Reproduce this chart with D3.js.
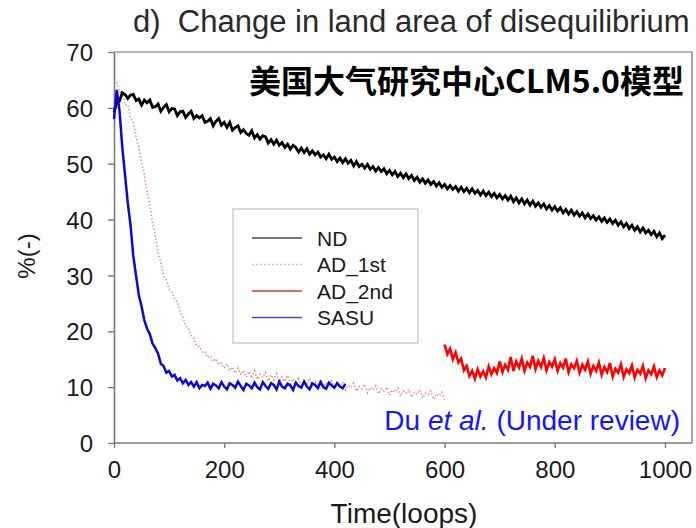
<!DOCTYPE html>
<html>
<head>
<meta charset="utf-8">
<script src="https://cdn.jsdelivr.net/npm/d3@7/dist/d3.min.js"></script>
<style>
  html, body { margin: 0; padding: 0; background: #fff; }
  svg { display: block; font-family: "Liberation Sans", Arial, sans-serif; }
</style>
</head>
<body>
<svg id="chart" width="696" height="528"></svg>
<script>
// Percent of land area still in disequilibrium, per spin-up loop.
const ndStart = 0, ndStep = 5;
const ndValues = [
  59.2, 60.9, 61.2, 62.7, 62.4, 61.7, 62.3, 62.4, 61.3, 61.6,
  60.5, 61.4, 60.9, 61.4, 60.1, 60.2, 60.7, 59.4, 60.1, 60.6,
  59.3, 59.9, 59.8, 58.6, 59.3, 59.4, 58.3, 58.9, 59.4, 58.1,
  58.6, 58.2, 58.6, 57.4, 57.6, 58.1, 56.8, 57.6, 58.1, 56.9,
  57.4, 56.5, 57.4, 56.0, 56.5, 56.8, 55.6, 56.1, 55.4, 55.1,
  55.9, 54.6, 55.2, 54.4, 55.0, 54.8, 53.7, 54.3, 53.5, 54.2,
  53.3, 53.8, 52.9, 53.5, 52.6, 53.3, 52.9, 52.1, 52.8, 52.0,
  52.7, 51.7, 52.3, 51.6, 52.1, 51.2, 51.6, 50.9, 51.7, 50.8,
  51.2, 50.4, 51.0, 50.2, 50.9, 50.1, 50.6, 49.6, 50.4, 49.5,
  49.9, 49.2, 49.9, 49.0, 49.5, 48.7, 49.3, 48.6, 49.1, 48.2,
  48.8, 48.0, 48.6, 47.7, 48.3, 47.5, 48.2, 47.3, 47.9, 47.0,
  47.6, 46.7, 47.3, 46.5, 47.1, 46.3, 46.8, 46.0, 46.6, 45.8,
  46.3, 45.5, 46.1, 45.4, 45.9, 45.1, 45.8, 45.0, 45.6, 44.8,
  45.5, 44.7, 45.2, 44.4, 45.1, 44.3, 44.9, 44.1, 44.7, 43.9,
  44.5, 43.7, 44.3, 43.5, 44.2, 43.2, 43.9, 43.0, 43.7, 42.8,
  43.5, 42.6, 43.3, 42.4, 43.0, 42.2, 42.8, 41.9, 42.5, 41.7,
  42.3, 41.5, 42.1, 41.2, 41.8, 41.0, 41.7, 40.8, 41.4, 40.6,
  41.2, 40.3, 41.0, 40.2, 40.7, 39.9, 40.5, 39.7, 40.3, 39.5,
  40.1, 39.3, 39.9, 39.0, 39.6, 38.7, 39.3, 38.4, 39.0, 38.1,
  38.7, 37.8, 38.5, 37.6, 38.1, 37.3, 37.9, 36.9, 37.6, 36.6,
  37.2
];

const ad1Start = 5, ad1Step = 5;
const ad1Values = [
  64.6, 62.8, 63.0, 60.5, 60.6, 58.2, 57.5, 54.8, 53.0, 50.2,
  48.1, 44.8, 42.6, 39.3, 37.2, 33.9, 32.3, 29.9, 29.2, 27.6,
  27.1, 25.7, 25.3, 23.4, 22.6, 20.9, 20.6, 19.2, 18.7, 17.4,
  17.3, 16.3, 16.4, 15.3, 15.6, 14.6, 15.1, 14.1, 14.3, 13.4,
  14.2, 13.0, 13.6, 12.5, 13.4, 12.2, 13.0, 11.8, 12.8, 11.6,
  12.9, 11.4, 12.3, 11.7, 12.6, 11.1, 12.2, 11.3, 12.4, 10.9,
  11.8, 11.0, 12.1, 10.6, 11.5, 10.9, 11.8, 10.3, 11.2, 10.6,
  11.6, 10.1, 11.0, 10.5, 11.4, 9.9, 10.8, 10.4, 11.1, 9.7,
  10.6, 10.1, 10.9, 9.5, 10.3, 9.9, 10.7, 9.3, 10.1, 9.7,
  10.5, 9.0, 9.9, 9.5, 10.2, 8.8, 9.7, 9.3, 10.0, 8.6,
  9.5, 9.1, 9.8, 8.4, 9.3, 8.9, 9.6, 8.2, 9.1, 8.7,
  9.5, 8.0, 8.9, 8.6, 9.3, 7.8, 8.8, 8.4, 9.1, 7.7
];

const ad2Start = 600, ad2Step = 5;
const ad2Values = [
  17.6, 15.9, 16.9, 15.0, 16.2, 14.4, 15.1, 13.0, 13.8, 12.0,
  12.9, 11.5, 13.2, 11.9, 12.8, 11.7, 13.7, 12.3, 13.4, 12.5,
  14.6, 12.7, 14.0, 13.1, 15.4, 12.9, 14.6, 13.5, 15.1, 12.9,
  14.4, 13.6, 15.6, 13.2, 14.7, 13.6, 15.2, 13.0, 14.5, 13.7,
  15.0, 12.9, 14.3, 13.5, 15.1, 12.7, 14.1, 13.4, 14.7, 12.6,
  14.0, 13.1, 14.6, 12.4, 13.8, 12.9, 14.4, 12.2, 13.6, 12.7,
  14.3, 11.9, 13.3, 12.6, 14.1, 11.8, 13.2, 12.5, 13.9, 11.7,
  13.1, 12.4, 13.8, 11.6, 13.0, 12.3, 13.7, 11.8, 13.0, 12.1,
  13.4
];

const sasuStart = 0, sasuStep = 5;
const sasuValues = [
  58.0, 63.2, 59.5, 53.0, 48.0, 43.0, 39.0, 33.5, 30.0, 26.5,
  24.5, 22.0, 20.5, 19.5, 17.8, 17.0, 16.0, 14.2, 13.8, 12.6,
  12.9, 11.9, 12.2, 11.2, 11.6, 10.7, 11.3, 10.4, 10.9, 10.1,
  10.9, 9.8, 10.4, 10.2, 10.8, 9.7, 10.6, 10.3, 9.8, 10.9,
  10.1, 9.6, 10.7, 10.4, 9.9, 11.0, 10.2, 9.5, 10.6, 10.3,
  9.8, 10.8, 10.0, 9.6, 10.9, 10.2, 9.7, 10.7, 10.4, 9.6,
  11.0, 10.1, 9.8, 10.6, 10.3, 9.5, 10.8, 10.2, 9.9, 11.0,
  10.1, 9.6, 10.7, 10.4, 9.8, 10.9, 10.0, 9.7, 10.8, 10.3,
  9.9, 10.7, 10.1, 9.8, 10.6
];

const seriesNames = ["ND", "AD_1st", "AD_2nd", "SASU"];
const xTicks = [0, 200, 400, 600, 800, 1000];
const yTicks = [0, 10, 20, 30, 40, 50, 60, 70];

const titleText = "d)  Change in land area of disequilibrium";
const bannerText = "美国大气研究中心CLM5.0模型";
const xLabel = "Time(loops)";
const yLabel = "%(-)";

// ---- drawing ----
const svg = d3.select("#chart");
const plot = { left: 114, right: 692, top: 52, bottom: 443 };

const x = d3.scaleLinear().domain([0, 1000]).range([114, 665]);
const y = d3.scaleLinear().domain([0, 70]).range([443, 52]);

const toPoints = (start, step, vals) => vals.map((v, i) => [start + i * step, v]);
const line = d3.line().x(d => x(d[0])).y(d => y(d[1]));

// frame (top and right)
svg.append("path")
  .attr("d", `M${plot.left},${plot.top}H${plot.right}V${plot.bottom}`)
  .attr("fill", "none").attr("stroke", "#6e6e6e").attr("stroke-width", 1.2);

// axes
const xAxis = svg.append("g")
  .attr("transform", `translate(0,${plot.bottom})`)
  .call(d3.axisBottom(x).tickValues(xTicks).tickFormat(d3.format("d"))
    .tickSize(5).tickSizeOuter(0).tickPadding(10));
xAxis.select(".domain").attr("d", `M${plot.left},0H${plot.right}`);

const yAxis = svg.append("g")
  .attr("transform", `translate(${plot.left},0)`)
  .call(d3.axisLeft(y).tickValues(yTicks).tickSize(6).tickSizeOuter(0).tickPadding(15));

[xAxis, yAxis].forEach(g => {
  g.select(".domain").attr("stroke", "#7a7a7a").attr("stroke-width", 1.6);
  g.selectAll(".tick line").attr("stroke", "#7a7a7a").attr("stroke-width", 1.4);
  g.selectAll(".tick text")
    .attr("fill", "#1a1a1a")
    .style("font-family", "'Liberation Sans', Arial, sans-serif")
    .style("font-size", "24px");
});
xAxis.selectAll(".tick text").attr("dy", "0.85em");
yAxis.selectAll(".tick text").attr("dy", "0.36em");

// series
const lines = svg.append("g");

lines.append("path")
  .datum(toPoints(ad1Start, ad1Step, ad1Values))
  .attr("d", line)
  .attr("fill", "none")
  .attr("stroke", "#cf7470")
  .attr("stroke-width", 1.6)
  .attr("stroke-dasharray", "1.3 2.2")
  .attr("opacity", 0.85);

lines.append("path")
  .datum(toPoints(ndStart, ndStep, ndValues))
  .attr("d", line)
  .attr("fill", "none")
  .attr("stroke", "#000")
  .attr("stroke-width", 2.8);

lines.append("path")
  .datum(toPoints(ad2Start, ad2Step, ad2Values))
  .attr("d", line)
  .attr("fill", "none")
  .attr("stroke", "#ff0000")
  .attr("stroke-width", 2.6);

lines.append("path")
  .datum(toPoints(sasuStart, sasuStep, sasuValues))
  .attr("d", line)
  .attr("fill", "none")
  .attr("stroke", "#0a0ad2")
  .attr("stroke-width", 2.5);

// legend
const legend = svg.append("g").attr("transform", "translate(233,209)");
legend.append("rect")
  .attr("width", 185).attr("height", 134)
  .attr("fill", "#fff").attr("stroke", "#c4c4c4").attr("stroke-width", 1.2);

const legendStyles = [
  { stroke: "#4a4a4a", dash: null },
  { stroke: "#dca3a0", dash: "1.5 2.5" },
  { stroke: "#c43a36", dash: null },
  { stroke: "#4646c8", dash: null }
];
seriesNames.forEach((name, i) => {
  const cy = 29 + i * 26.5;
  legend.append("line")
    .attr("x1", 19).attr("x2", 69).attr("y1", cy).attr("y2", cy)
    .attr("stroke", legendStyles[i].stroke)
    .attr("stroke-width", 1.5)
    .attr("stroke-dasharray", legendStyles[i].dash);
  legend.append("text")
    .attr("x", 84).attr("y", cy).attr("dy", "0.36em")
    .attr("fill", "#1a1a1a")
    .style("font-size", "21px")
    .text(name);
});

// titles and labels
svg.append("text")
  .attr("x", 133).attr("y", 32)
  .attr("fill", "#2a2a2a")
  .style("font-size", "31px")
  .style("white-space", "pre")
  .attr("xml:space", "preserve")
  .text(titleText);

svg.append("text")
  .attr("x", 684).attr("y", 93)
  .attr("text-anchor", "end")
  .attr("fill", "#000")
  .style("font-family", "'Noto Sans CJK SC', 'Noto Sans', sans-serif")
  .style("font-weight", "bold")
  .style("font-size", "32px")
  .text(bannerText);

svg.append("text")
  .attr("x", 404).attr("y", 523)
  .attr("text-anchor", "middle")
  .attr("fill", "#1a1a1a")
  .style("font-size", "28px")
  .text(xLabel);

svg.append("text")
  .attr("transform", "translate(35,256) rotate(-90)")
  .attr("text-anchor", "middle")
  .attr("fill", "#1a1a1a")
  .style("font-size", "24px")
  .text(yLabel);

// citation note
const note = svg.append("text")
  .attr("x", 680).attr("y", 430)
  .attr("text-anchor", "end")
  .attr("fill", "#1515ff")
  .style("font-size", "28px");
note.append("tspan").text("Du ");
note.append("tspan").style("font-style", "italic").text("et al.");
note.append("tspan").text(" (Under review)");
</script>
</body>
</html>
